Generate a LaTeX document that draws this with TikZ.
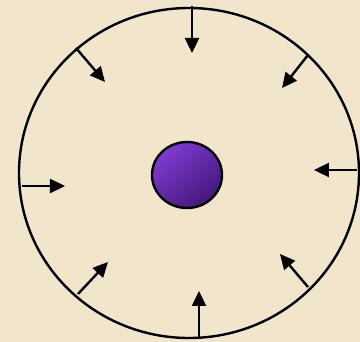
\documentclass[tikz,border=0pt]{standalone}
\usepackage{tikz}
\usetikzlibrary{arrows.meta,shapes.geometric}
\usepackage{xcolor}
\definecolor{parchment}{RGB}{241,229,203}
\definecolor{violetlight}{RGB}{128,58,210}
\definecolor{violetdark}{RGB}{68,24,122}

\begin{document}
\begin{tikzpicture}[x=1pt, y=-1pt, membrane/.style={ellipse, draw=black, line width=2.4pt, minimum width=340pt, minimum height=330pt, inner sep=0pt}, nucleus/.style={ellipse, draw=black, line width=2.4pt, minimum width=70pt, minimum height=66pt, inner sep=0pt, top color=violetlight, bottom color=violetdark, shading angle=40}, push/.style={-{Triangle[length=15pt, width=14pt]}, line width=2.4pt}]
\fill[parchment] (0,0) rectangle (360,342);
\useasboundingbox (0,0) rectangle (360,342);
\node[membrane] (cell) at (189,173) {};
\node[nucleus] (core) at (187,175) {};
% pressure arrows from the membrane inward
\foreach \sx/\sy/\ex/\ey [count=\i] in {192/6/192/53, 76/48/105/82, 308/55/282/88, 22/186/65/186, 357/170/314/170, 78/294/108/262, 308/287/280/254, 199/338/199/291} {
  \coordinate (s\i) at (\sx,\sy);
  \coordinate (e\i) at (\ex,\ey);
  \draw[push] (s\i) -- (e\i);
}
\end{tikzpicture}
\end{document}
